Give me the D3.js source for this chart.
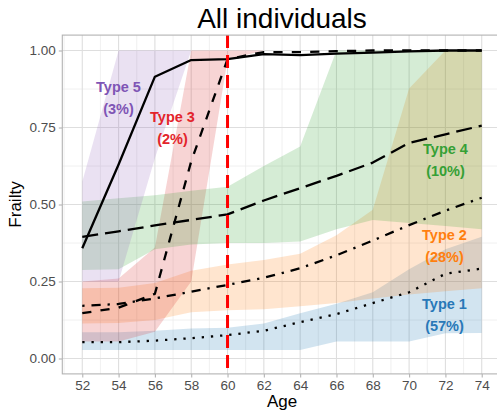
<!DOCTYPE html>
<html>
<head>
<meta charset="utf-8">
<script src="https://cdn.jsdelivr.net/npm/d3@7/dist/d3.min.js"></script>
<style>
  html, body { margin: 0; padding: 0; background: #ffffff; }
  svg { display: block; font-family: "Liberation Sans", Arial, Helvetica, sans-serif; }
</style>
</head>
<body>
<svg id="chart" width="497" height="411"></svg>
<script>
// Ages at which frailty trajectories are evaluated
const ages = [52, 54, 56, 58, 60, 62, 64, 66, 68, 70, 72, 74];

// Mean frailty trajectory and interval bounds for each latent type
const type1Mean = [0.053, 0.053, 0.058, 0.066, 0.076, 0.090, 0.118, 0.144, 0.180, 0.215, 0.275, 0.292];
const type1Low  = [0.028, 0.028, 0.028, 0.028, 0.028, 0.028, 0.028, 0.055, 0.055, 0.055, 0.082, 0.083];
const type1High = [0.085, 0.085, 0.090, 0.097, 0.100, 0.114, 0.147, 0.178, 0.215, 0.290, 0.355, 0.395];

const type2Mean = [0.171, 0.177, 0.195, 0.217, 0.239, 0.262, 0.293, 0.335, 0.383, 0.433, 0.480, 0.522];
const type2Low  = [0.114, 0.115, 0.125, 0.150, 0.157, 0.160, 0.170, 0.180, 0.195, 0.208, 0.218, 0.228];
const type2High = [0.228, 0.230, 0.245, 0.285, 0.305, 0.320, 0.340, 0.400, 0.483, 0.877, 1.000, 1.000];

const type3Mean = [0.147, 0.165, 0.210, 0.640, 0.972, 0.995, 0.995, 0.998, 1.000, 1.000, 1.000, 1.000];
const type3Low  = [0.055, 0.055, 0.087, 0.250, 0.970, 1.000, 1.000, 1.000, 1.000, 1.000, 1.000, 1.000];
const type3High = [0.250, 0.260, 0.360, 1.000, 1.000, 1.000, 1.000, 1.000, 1.000, 1.000, 1.000, 1.000];

const type4Mean = [0.395, 0.413, 0.432, 0.450, 0.468, 0.513, 0.553, 0.593, 0.636, 0.700, 0.728, 0.756];
const type4Low  = [0.287, 0.290, 0.355, 0.370, 0.375, 0.375, 0.380, 0.420, 0.450, 0.440, 0.430, 0.420];
const type4High = [0.510, 0.520, 0.530, 0.545, 0.558, 0.625, 0.688, 1.000, 1.000, 1.000, 1.000, 1.000];

const type5Mean = [0.358, 0.630, 0.915, 0.969, 0.972, 0.988, 0.985, 0.990, 0.993, 0.997, 1.000, 1.000];
const type5Low  = [0.250, 0.250, 0.650, 1.000, 1.000, 1.000, 1.000, 1.000, 1.000, 1.000, 1.000, 1.000];
const type5High = [0.574, 1.000, 1.000, 1.000, 1.000, 1.000, 1.000, 1.000, 1.000, 1.000, 1.000, 1.000];

// Class labels and shares
const typeNames  = ["Type 1", "Type 2", "Type 3", "Type 4", "Type 5"];
const typeShares = ["(57%)", "(28%)", "(2%)", "(10%)", "(3%)"];

// Axis ticks
const xTicks = [52, 54, 56, 58, 60, 62, 64, 66, 68, 70, 72, 74];
const yTicks = [0, 0.25, 0.5, 0.75, 1];
const cutoffAge = 60;

// Presentation for each type
const typeColors = ["#1f77b4", "#ff7f0e", "#d62728", "#2ca02c", "#9467bd"];
const labelColors = ["#2878b8", "#ff7f0e", "#e3242b", "#35a035", "#7f55b5"];
const dashes = ["2.3,6.9", "2.3,6.9,9.2,6.9", "9.2,9.2", "16,7", null];
const labelPos = [[444.5, 304], [444.5, 235], [172.5, 117], [445.5, 149], [118.5, 87]];

const series = [
  { mean: type1Mean, low: type1Low, high: type1High },
  { mean: type2Mean, low: type2Low, high: type2High },
  { mean: type3Mean, low: type3Low, high: type3High },
  { mean: type4Mean, low: type4Low, high: type4High },
  { mean: type5Mean, low: type5Low, high: type5High }
];

const svg = d3.select("#chart");
const W = 497, H = 411;
const panel = { left: 62.3, right: 501.7, top: 35.1, bottom: 373.9 };

const x = d3.scaleLinear().domain([50.9, 75.1]).range([panel.left, panel.right]);
const y = d3.scaleLinear().domain([-0.05, 1.05]).range([panel.bottom, panel.top]);

svg.append("rect").attr("width", W).attr("height", H).attr("fill", "#ffffff");

// Grid
const grid = svg.append("g");
const minorX = d3.range(51, 76, 2);
const minorY = [0.125, 0.375, 0.625, 0.875];
grid.selectAll(".mx").data(minorX).join("line")
  .attr("x1", d => x(d)).attr("x2", d => x(d))
  .attr("y1", panel.top).attr("y2", panel.bottom)
  .attr("stroke", "#ececec").attr("stroke-width", 0.8);
grid.selectAll(".my").data(minorY).join("line")
  .attr("y1", d => y(d)).attr("y2", d => y(d))
  .attr("x1", panel.left).attr("x2", panel.right)
  .attr("stroke", "#ececec").attr("stroke-width", 0.8);
grid.selectAll(".Mx").data(xTicks).join("line")
  .attr("x1", d => x(d)).attr("x2", d => x(d))
  .attr("y1", panel.top).attr("y2", panel.bottom)
  .attr("stroke", "#dedede").attr("stroke-width", 1.1);
grid.selectAll(".My").data(yTicks).join("line")
  .attr("y1", d => y(d)).attr("y2", d => y(d))
  .attr("x1", panel.left).attr("x2", panel.right)
  .attr("stroke", "#dedede").attr("stroke-width", 1.1);

// Interval ribbons
const area = d3.area()
  .x((d, i) => x(ages[i]))
  .y0(d => y(d[0]))
  .y1(d => y(d[1]));

const plot = svg.append("g");
series.forEach((s, k) => {
  const pts = ages.map((a, i) => [s.low[i], s.high[i]]);
  plot.append("path")
    .attr("d", area(pts))
    .attr("fill", typeColors[k])
    .attr("fill-opacity", 0.2);
});

// Mean trajectories
const line = d3.line()
  .x((d, i) => x(ages[i]))
  .y(d => y(d));

series.forEach((s, k) => {
  const p = plot.append("path")
    .attr("d", line(s.mean))
    .attr("fill", "none")
    .attr("stroke", "#000000")
    .attr("stroke-width", 2.3)
    .attr("stroke-linejoin", "round");
  if (dashes[k]) p.attr("stroke-dasharray", dashes[k]);
});

// Cut-off age
plot.append("line")
  .attr("x1", x(cutoffAge)).attr("x2", x(cutoffAge))
  .attr("y1", panel.top).attr("y2", panel.bottom)
  .attr("stroke", "#ff0000").attr("stroke-width", 3)
  .attr("stroke-dasharray", "13,7");

// Type labels
typeNames.forEach((name, k) => {
  const [lx, ly] = labelPos[k];
  const t = svg.append("text")
    .attr("x", lx).attr("y", ly)
    .attr("text-anchor", "middle")
    .attr("fill", labelColors[k])
    .attr("font-weight", "bold")
    .attr("font-size", 14.5);
  t.append("tspan").attr("x", lx).attr("dy", "0.35em").text(name);
  t.append("tspan").attr("x", lx).attr("dy", 22).text(typeShares[k]);
});

// Panel border
svg.append("rect")
  .attr("x", panel.left).attr("y", panel.top)
  .attr("width", panel.right - panel.left).attr("height", panel.bottom - panel.top)
  .attr("fill", "none").attr("stroke", "#b3b3b3").attr("stroke-width", 1.1);

// Axes
const xAxis = svg.append("g")
  .attr("transform", `translate(0,${panel.bottom})`)
  .call(d3.axisBottom(x).tickValues(xTicks).tickSize(3.5).tickPadding(3).tickFormat(d3.format("d")));
const yAxis = svg.append("g")
  .attr("transform", `translate(${panel.left},0)`)
  .call(d3.axisLeft(y).tickValues(yTicks).tickSize(3.5).tickPadding(3).tickFormat(d3.format(".2f")));
[xAxis, yAxis].forEach(g => {
  g.select(".domain").remove();
  g.selectAll(".tick line").attr("stroke", "#b3b3b3").attr("stroke-width", 1.1);
  g.selectAll(".tick text")
    .attr("fill", "#4d4d4d")
    .attr("font-size", 13.5)
    .attr("font-family", "Liberation Sans, Arial, sans-serif");
});

// Titles
svg.append("text")
  .attr("x", (panel.left + panel.right) / 2).attr("y", 28)
  .attr("text-anchor", "middle")
  .attr("font-size", 28)
  .attr("fill", "#000000")
  .text("All individuals");

svg.append("text")
  .attr("x", (panel.left + panel.right) / 2).attr("y", 407)
  .attr("text-anchor", "middle")
  .attr("font-size", 17)
  .attr("fill", "#000000")
  .text("Age");

svg.append("text")
  .attr("transform", `translate(21,${(panel.top + panel.bottom) / 2}) rotate(-90)`)
  .attr("text-anchor", "middle")
  .attr("font-size", 17)
  .attr("fill", "#000000")
  .text("Frailty");
</script>
</body>
</html>
